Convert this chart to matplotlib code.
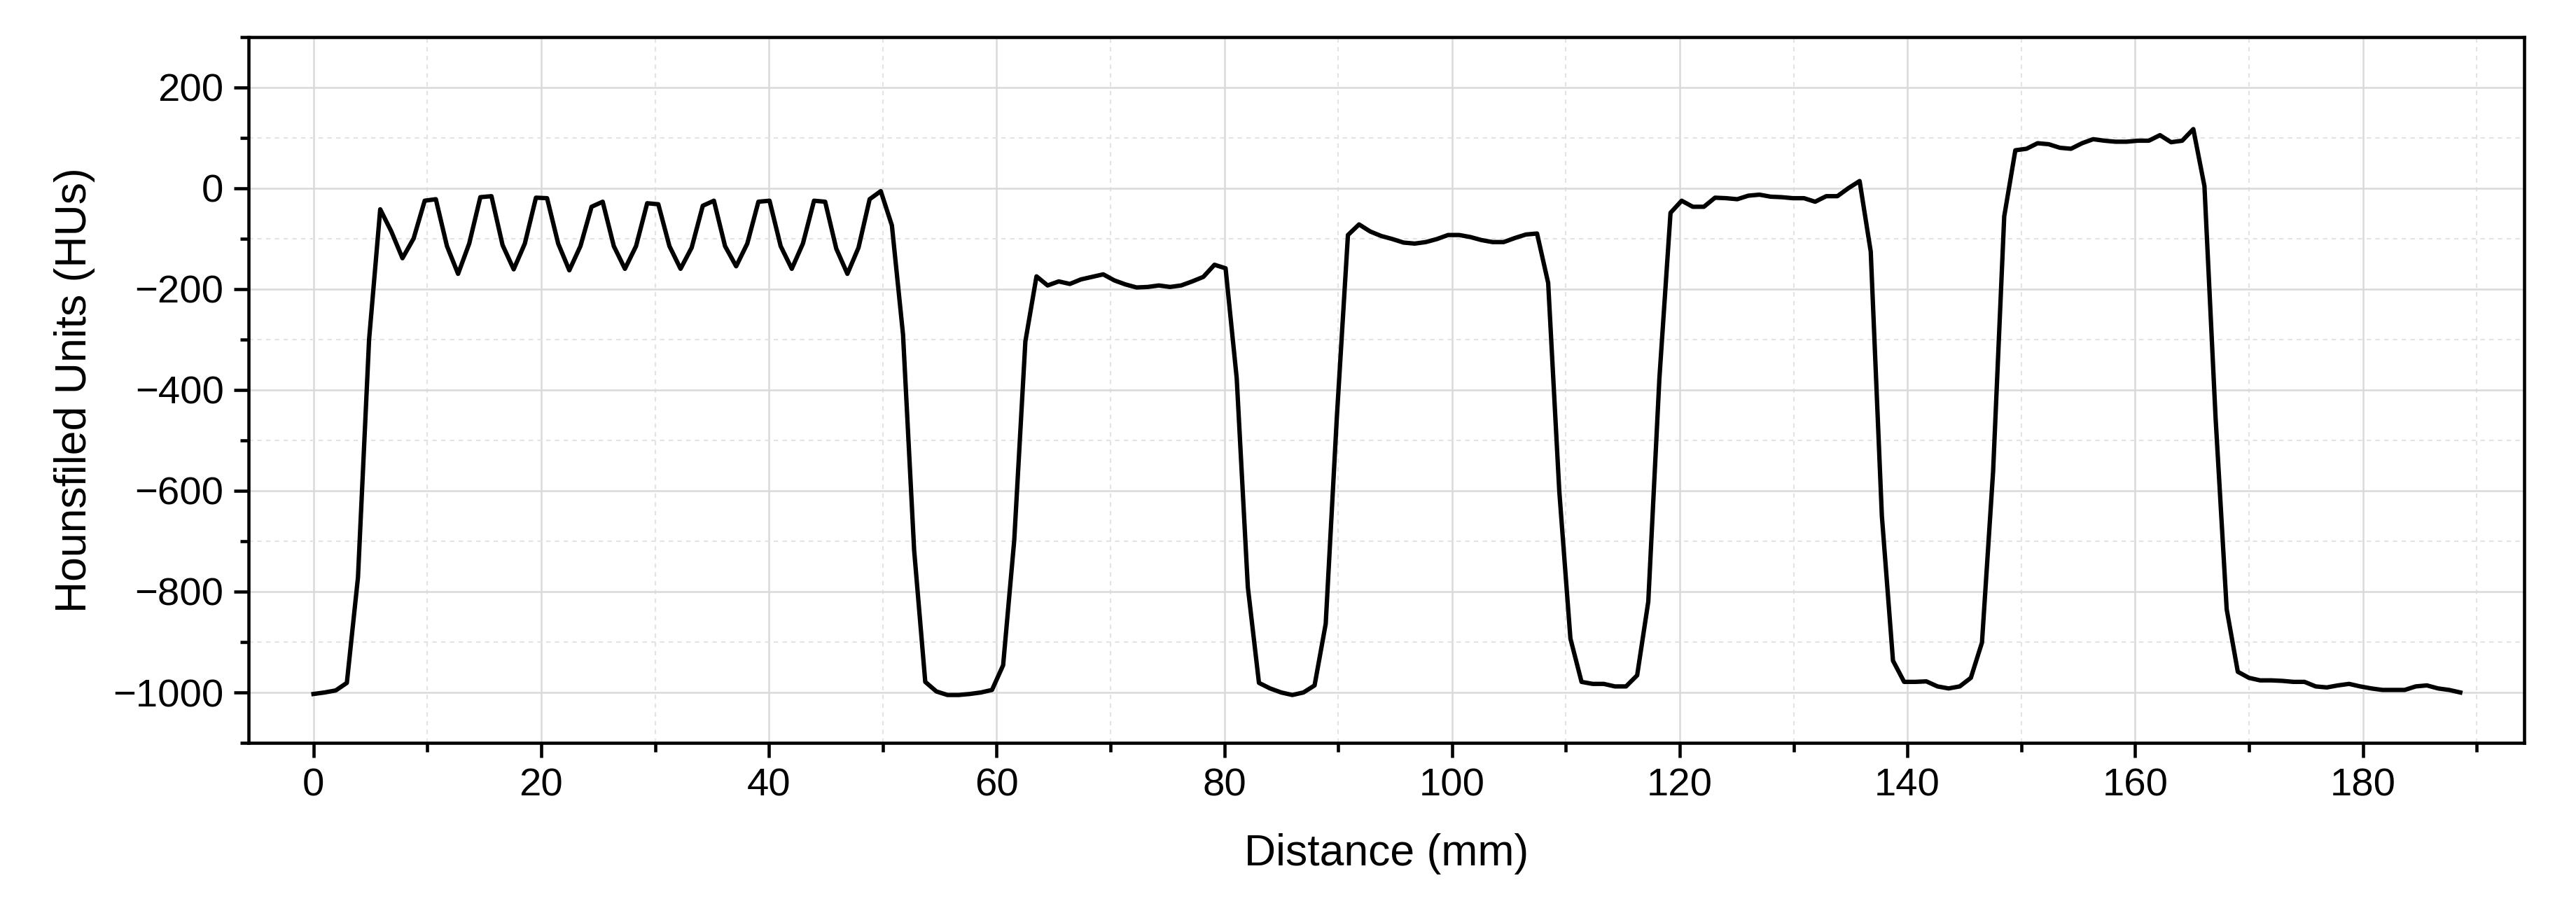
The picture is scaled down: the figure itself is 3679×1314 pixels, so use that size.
import numpy as np
import matplotlib
matplotlib.use("Agg")
import matplotlib.pyplot as plt
from matplotlib.ticker import MultipleLocator

plt.rcParams['font.family'] = ['Liberation Sans', 'DejaVu Sans']

sample_spacing_mm = 0.977
hu = [-1003, -1000, -996, -981, -772, -300, -42, -86, -139, -100,
      -25, -22, -115, -170, -110, -18, -16, -113, -161, -110,
      -19, -20, -110, -163, -115, -37, -27, -115, -160, -115,
      -30, -32, -115, -160, -118, -35, -25, -115, -155, -110,
      -27, -25, -115, -160, -110, -25, -27, -120, -170, -118,
      -22, -6, -74, -290, -718, -979, -998, -1005, -1005, -1003,
      -1000, -995, -946, -698, -304, -175, -193, -185, -190, -181,
      -176, -171, -183, -191, -197, -196, -193, -196, -193, -185,
      -176, -152, -159, -377, -791, -981, -992, -1000, -1005, -1000,
      -986, -864, -455, -93, -72, -86, -95, -101, -108, -110,
      -107, -101, -93, -93, -97, -103, -107, -107, -99, -92,
      -90, -188, -601, -893, -979, -983, -983, -988, -988, -966,
      -820, -377, -49, -25, -37, -37, -19, -20, -22, -15,
      -13, -17, -18, -20, -20, -27, -16, -16, 0, 14,
      -126, -650, -937, -979, -979, -978, -988, -992, -988, -971,
      -901, -562, -56, 75, 78, 89, 87, 80, 78, 89,
      97, 94, 92, 92, 94, 94, 105, 91, 94, 117,
      4, -455, -835, -959, -971, -976, -976, -977, -979, -979,
      -988, -990, -986, -983, -988, -992, -995, -995, -995, -988,
      -986, -992, -995, -1000]
distance = np.arange(len(hu)) * sample_spacing_mm

fig = plt.figure(figsize=(3679/300, 1314/300), dpi=300)
ax = fig.add_axes([0.0965, 0.1925, 0.980-0.0965, 0.960-0.1925])
ax.plot(distance, hu, color='black', lw=1.5)

ax.set_xlim(-5.7, 194.2)
ax.set_ylim(-1100, 300)
ax.xaxis.set_major_locator(MultipleLocator(20))
ax.xaxis.set_minor_locator(MultipleLocator(10))
ax.yaxis.set_major_locator(MultipleLocator(200))
ax.yaxis.set_minor_locator(MultipleLocator(100))
ax.grid(which='major', color='#d9d9d9', lw=0.6)
ax.grid(which='minor', color='#e3e3e3', lw=0.5, ls=(0, (3, 3)))
ax.set_axisbelow(True)
ax.tick_params(which='major', direction='out', length=5, width=1.1, labelsize=13.5)
ax.tick_params(which='minor', direction='out', length=3, width=1.1)
for s in ax.spines.values():
    s.set_linewidth(1.1)
ax.set_xlabel('Distance (mm)', fontsize=15, labelpad=10)
ax.set_ylabel('Hounsfiled Units (HUs)', fontsize=15, labelpad=6)
fig.savefig('out.png', dpi=300)
